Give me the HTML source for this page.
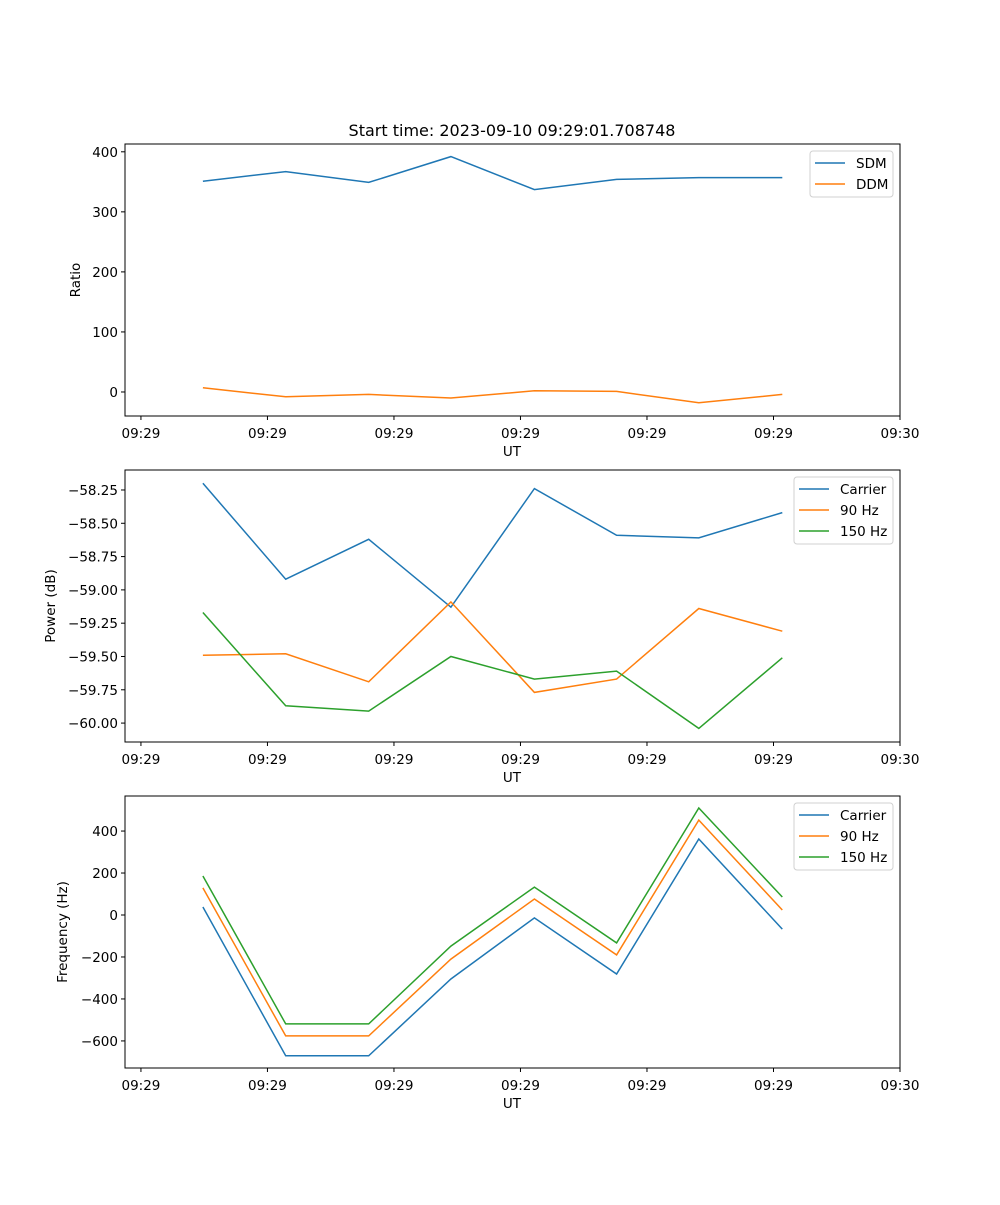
<!DOCTYPE html>
<html><head><meta charset="utf-8"><style>
body{margin:0;background:#fff}
svg text{font-family:"DejaVu Sans","Liberation Sans",sans-serif;fill:#000}
</style></head><body>
<svg id="fig" width="1000" height="1200" xmlns="http://www.w3.org/2000/svg">
<rect width="1000" height="1200" fill="#fff"/>
<text x="512" y="136" font-size="16" text-anchor="middle">Start time: 2023-09-10 09:29:01.708748</text>
</svg>
<script>
const times = [0.49, 1.144, 1.80, 2.45, 3.11, 3.76, 4.41, 5.07];
const xTickVals = [0, 1, 2, 3, 4, 5, 6];
const xTickLabels = ["09:29","09:29","09:29","09:29","09:29","09:29","09:30"];
const sdm = [351, 367, 349, 392, 337, 354, 357, 357];
const ddm = [7, -8, -4, -10, 2, 1, -18, -4];
const powCarrier = [-58.20, -58.92, -58.62, -59.13, -58.24, -58.59, -58.61, -58.42];
const pow90 = [-59.49, -59.48, -59.69, -59.09, -59.77, -59.67, -59.14, -59.31];
const pow150 = [-59.17, -59.87, -59.91, -59.50, -59.67, -59.61, -60.04, -59.51];
const freqCarrier = [38, -671, -671, -305, -14, -281, 362, -67];
const freq90 = [129, -576, -576, -210, 76, -190, 452, 24];
const freq150 = [186, -519, -519, -148, 133, -133, 510, 86];
const ratioTicks = [0, 100, 200, 300, 400];
const powTicks = [-60.00, -59.75, -59.50, -59.25, -59.00, -58.75, -58.50, -58.25];
const freqTicks = [-600, -400, -200, 0, 200, 400];

const NS = "http://www.w3.org/2000/svg";
const svg = document.getElementById('fig');
function mk(tag, attrs, parent){const e=document.createElementNS(NS,tag);for(const k in attrs)e.setAttribute(k,attrs[k]);(parent||svg).appendChild(e);return e;}
const L=125,R=900,X0=-0.126,X1=6.0;
function xs(t){return L+(t-X0)/(X1-X0)*(R-L);}
function fmt(v,d){const s=v.toFixed(d);return s.replace('-','\u2212');}
const colors={b:'#1f77b4',o:'#ff7f0e',g:'#2ca02c'};

function panel(name,top,bot,ymin,ymax,ticks,dec,ylabel,ylabX,series){
  const g=mk('g',{});
  
  
  const ys=v=>bot-(v-ymin)/(ymax-ymin)*(bot-top);
  series.forEach(s=>{
    const pts=s.vals.map((v,i)=>xs(times[i]).toFixed(1)+','+ys(v).toFixed(1)).join(' ');
    const p=mk('polyline',{points:pts,fill:'none',stroke:s.c,'stroke-width':1.5},g);
    
    
  });
  const fr=mk('rect',{x:L,y:top,width:R-L,height:bot-top,fill:'none',stroke:'#000','stroke-width':1},g);
  
  
  xTickVals.forEach((t,i)=>{
    const x=xs(t);
    mk('line',{x1:x,x2:x,y1:bot,y2:bot+4,stroke:'#000'},g);
    const tx=mk('text',{x:x,y:bot+22,'font-size':13.5,'text-anchor':'middle'},g);
    tx.textContent=xTickLabels[i];
    
    
  });
  ticks.forEach(v=>{
    const y=ys(v);
    mk('line',{x1:L-4,x2:L,y1:y,y2:y,stroke:'#000'},g);
    const tx=mk('text',{x:L-7,y:y+5,'font-size':13.5,'text-anchor':'end'},g);
    tx.textContent=fmt(v,dec);
    
    
  });
  const xl=mk('text',{x:512,y:bot+40,'font-size':13.5,'text-anchor':'middle'},g);
  xl.textContent='UT';
  
  
  const cy=(top+bot)/2;
  const yl=mk('text',{x:ylabX,y:cy,'font-size':13.5,'text-anchor':'middle',transform:`rotate(-90 ${ylabX} ${cy})`},g);
  yl.textContent=ylabel;
  
  
  const w=series.length===2?83:99, lx=R-7-w, ly=top+7, h=series.length*21+4;
  const lg=mk('g',{},g);
  
  
  mk('rect',{x:lx,y:ly,width:w,height:h,rx:3,fill:'#fff','fill-opacity':0.8,stroke:'#d0d0d0'},lg);
  series.forEach((s,i)=>{
    const yy=ly+12+i*21;
    mk('line',{x1:lx+5,x2:lx+35,y1:yy,y2:yy,stroke:s.c,'stroke-width':1.5},lg);
    const t=mk('text',{x:lx+46,y:yy+5,'font-size':13.5},lg);
    t.textContent=s.label;
    
    
  });
}
panel('ratio',144,416,-40,413,ratioTicks,0,'Ratio',80,[
  {id:'sdm',label:'SDM',vals:sdm,c:colors.b},
  {id:'ddm',label:'DDM',vals:ddm,c:colors.o}]);
panel('power',470,742,-60.142,-58.10,powTicks,2,'Power (dB)',55,[
  {id:'carrier',label:'Carrier',vals:powCarrier,c:colors.b},
  {id:'90hz',label:'90 Hz',vals:pow90,c:colors.o},
  {id:'150hz',label:'150 Hz',vals:pow150,c:colors.g}]);
panel('frequency',796,1068,-729,567,freqTicks,0,'Frequency (Hz)',67,[
  {id:'carrier',label:'Carrier',vals:freqCarrier,c:colors.b},
  {id:'90hz',label:'90 Hz',vals:freq90,c:colors.o},
  {id:'150hz',label:'150 Hz',vals:freq150,c:colors.g}]);
</script>
</body></html>
